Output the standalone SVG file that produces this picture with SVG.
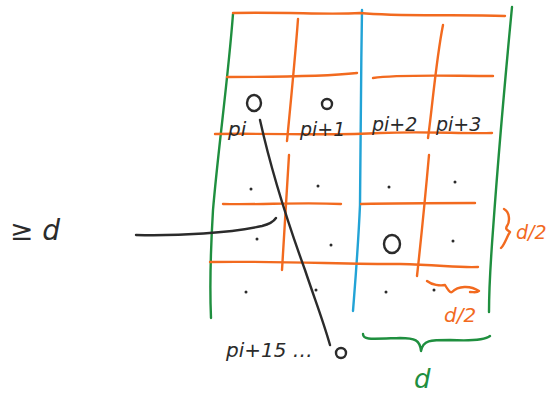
<svg xmlns="http://www.w3.org/2000/svg" width="550" height="393" viewBox="0 0 550 393">
<style>
.s{fill:none;stroke-width:2.4;stroke-linecap:round;stroke-linejoin:round}
.o{stroke:#f26a1f}.g{stroke:#1f8f3f}.b{stroke:#22a3d6}.k{stroke:#2b2b2b}
.t{font-family:"DejaVu Sans",sans-serif;font-style:italic;fill:#2b2b2b}
.to{fill:#f26a1f}.tg{fill:#1f8f3f}
.d{fill:#2b2b2b}
</style>
<rect width="550" height="393" fill="#fff"/>
<!-- green borders -->
<path class="s g" d="M233,14 C228,80 218,150 213,210 C210,260 210,295 211,318"/>
<path class="s g" d="M512,7 C505,80 498,160 493,230 C490,270 489,295 489,312"/>
<!-- blue middle -->
<path class="s b" d="M362,10 C361,80 360,160 360,205 C358,250 355,285 353,311"/>
<!-- orange horizontals -->
<path class="s o" d="M233,13 C290,12 330,15 360,13 C400,17 460,14 505,16"/>
<path class="s o" d="M227,77 C270,77 320,77 357,73"/>
<path class="s o" d="M373,78 C400,74 450,76 493,76"/>
<path class="s o" d="M215,134 C280,133 330,136 380,133 C430,131 460,134 492,133"/>
<path class="s o" d="M223,204 C260,205 300,202 341,204"/>
<path class="s o" d="M361,204 C400,203 440,203 475,203"/>
<path class="s o" d="M210,262 C280,261 340,264 400,264 C440,265 460,268 478,267"/>
<!-- orange verticals -->
<path class="s o" d="M298,19 C295,60 290,110 287,141"/>
<path class="s o" d="M289,155 C286,200 284,240 282,270"/>
<path class="s o" d="M443,25 C436,60 432,110 428,138"/>
<path class="s o" d="M429,155 C425,200 421,240 417,276"/>
<!-- right brace d/2 -->
<path class="s o" d="M504,209 C510,212 510,222 507,226 C505,229 507,230 510,232 C507,236 505,244 501,248"/>
<!-- bottom small brace d/2 -->
<path class="s o" d="M427,281 C432,285 440,286 445,285 C448,290 450,293 452,292 C458,286 470,285 479,291 C477,293 474,292 470,292"/>
<!-- green bottom brace -->
<path class="s g" d="M363,334 C363,340 370,339 400,338 C415,338 420,340 421,351 C423,340 430,340 450,340 C470,341 485,340 490,336"/>
<!-- black strokes -->
<path class="s k" d="M136,235 C180,236 230,233 262,226 C270,224 274,221 276,218"/>
<path class="s k" d="M260,120 C270,165 285,215 305,270 C315,300 323,320 330,345"/>
<!-- circles -->
<ellipse class="s k" cx="254" cy="103" rx="7" ry="8"/>
<ellipse class="s k" cx="327" cy="104" rx="5" ry="5"/>
<ellipse class="s k" cx="392" cy="244" rx="8" ry="9"/>
<ellipse class="s k" cx="341" cy="353" rx="5" ry="5"/>
<!-- dots -->
<g class="d">
<circle cx="251" cy="189" r="1.5"/><circle cx="318" cy="186" r="1.5"/><circle cx="389" cy="187" r="1.5"/><circle cx="455" cy="182" r="1.5"/>
<circle cx="257" cy="239" r="1.5"/><circle cx="331" cy="245" r="1.5"/><circle cx="453" cy="241" r="1.5"/>
<circle cx="246" cy="292" r="1.5"/><circle cx="316" cy="290" r="1.5"/><circle cx="386" cy="292" r="1.5"/><circle cx="434" cy="290" r="1.5"/>
</g>
<!-- labels -->
<text class="t" x="228" y="136" font-size="20">pi</text>
<text class="t" x="300" y="136" font-size="19">pi+1</text>
<text class="t" x="372" y="131" font-size="19">pi+2</text>
<text class="t" x="436" y="131" font-size="19">pi+3</text>
<text class="t" x="226" y="357" font-size="20">pi+15 …</text>
<text class="t" x="10" y="240" font-size="28">≥ d</text>
<text class="t to" x="516" y="239" font-size="19">d/2</text>
<text class="t to" x="444" y="322" font-size="20">d/2</text>
<text class="t tg" x="414" y="388" font-size="26">d</text>
</svg>
